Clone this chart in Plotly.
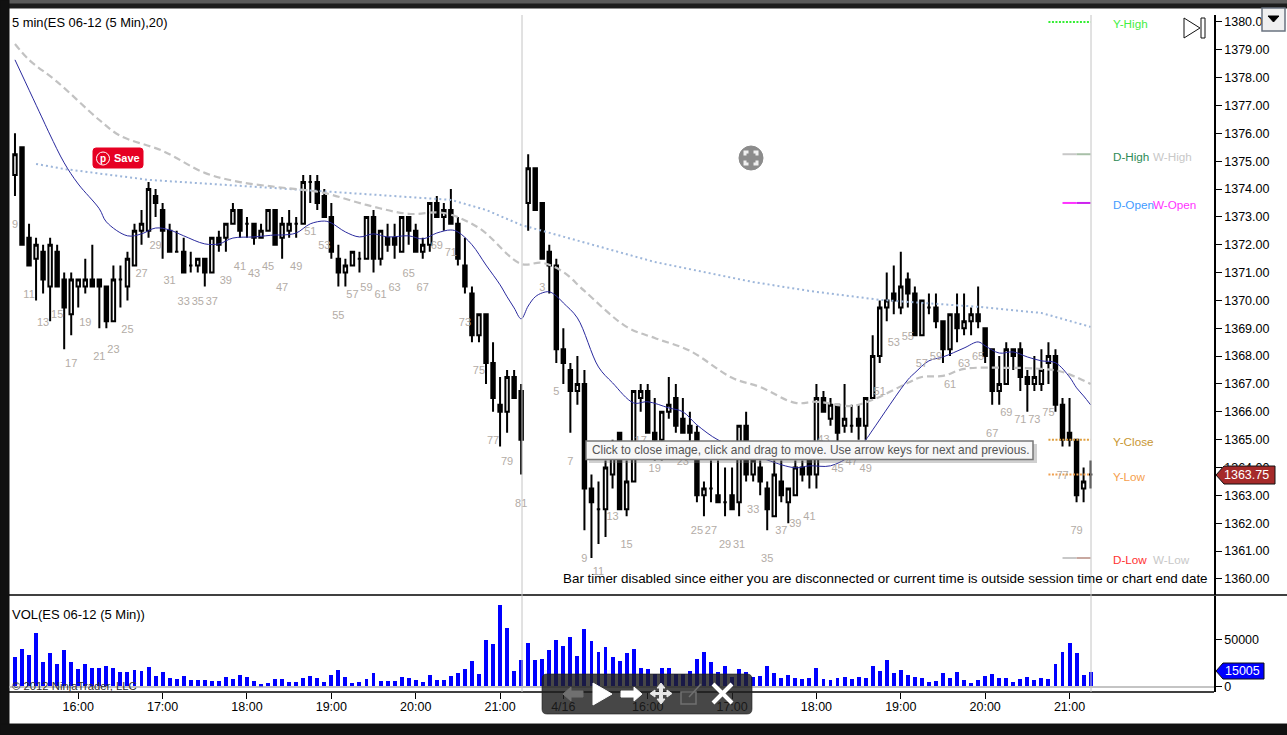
# Graphique ES 06-12 5 min avec volume

import plotly.graph_objects as go

W = 1287
H = 735

# Bougies (index de barre = position)
opens = [1374.5,1375.5,1372.25,1371.5,1371.75,1370.5,1371.75,1370.75,1369.5,1370.5,1370.5,1370.75,1370.75,1370.5,1369.25,1370.75,1370.5,1371.25,1372.5,1372.5,
1373.75,1373.25,1372.5,1371.75,1371.75,1371.25,1371.25,1371.5,1371.0,1372.25,1372.25,1372.75,1373.25,1372.75,1372.75,1372.25,1372.5,1373.25,1372.25,1372.5,
1372.75,1372.75,1374.25,1374.25,1373.75,1373.0,1371.5,1371.0,1371.25,1371.5,1371.5,1373.0,1371.5,1372.25,1372.25,1371.75,1373.0,1372.5,1371.75,1372.0,
1373.5,1373.0,1373.25,1372.75,1371.25,1370.25,1368.75,1369.5,1367.75,1366.25,1366.0,1367.25,1366.75,
1373.5,1374.75,1373.5,1371.75,1371.25,1368.25,1367.5,1366.75,1367.0,1363.25,1362.5,1362.5,1363.75,1365.25,1362.5,1363.5,1366.5,1366.75,1365.25,1365.0,1366.0,
1366.5,1365.75,1365.5,1365.25,1363.0,1363.25,1363.0,1362.75,1363.0,1362.75,1365.5,1363.75,1364.0,1363.25,1362.25,1363.5,1362.75,1363.0,1364.0,1364.25,1363.75,
1366.5,1365.75,1366.25,1365.5,1365.5,1365.75,1365.5,1366.5,1368.0,1369.75,1370.25,1369.75,1370.75,1370.25,1368.75,1369.75,1369.75,1369.25,1368.25,1369.5,1369.0,
1369.25,1369.5,1369.0,1368.25,1366.75,1367.0,1368.25,1368.25,1367.25,1367.0,1367.0,1367.75,1368.0,1366.25,1365.25,1365.0,1363.25,1363.75]
highs = [1376.0,1375.5,1372.75,1372.25,1372.0,1372.25,1372.0,1371.0,1371.0,1370.75,1371.5,1372.0,1370.75,1370.5,1371.25,1371.25,1371.75,1372.75,1373.25,1374.25,
1374.0,1373.5,1372.75,1372.5,1372.25,1371.75,1371.5,1371.5,1372.25,1372.5,1372.75,1373.5,1373.25,1373.0,1372.75,1372.75,1373.25,1373.25,1373.0,1373.25,
1373.0,1374.5,1374.5,1374.5,1374.0,1373.5,1372.0,1371.5,1371.75,1371.75,1373.0,1373.25,1372.5,1372.75,1372.75,1373.0,1373.0,1372.75,1372.25,1373.5,
1373.75,1373.5,1374.0,1373.0,1372.25,1370.5,1369.5,1369.5,1368.5,1367.25,1367.5,1367.5,1367.0,
1375.25,1374.75,1373.5,1372.0,1371.5,1369.0,1367.75,1368.0,1367.5,1363.75,1363.5,1364.25,1365.0,1365.25,1364.25,1366.75,1367.0,1367.0,1366.5,1366.0,1367.25,
1367.0,1366.5,1366.0,1365.5,1363.5,1364.25,1364.25,1364.0,1364.0,1365.5,1366.0,1364.5,1364.25,1363.5,1364.25,1364.25,1363.25,1364.25,1364.25,1364.25,1367.0,
1366.75,1366.5,1366.25,1367.0,1366.25,1366.25,1366.5,1368.75,1370.0,1371.0,1371.25,1371.75,1371.0,1370.5,1370.0,1370.25,1370.25,1369.25,1369.5,1370.25,1370.25,
1369.75,1370.5,1369.0,1368.25,1368.0,1368.5,1368.25,1368.5,1367.5,1368.0,1368.25,1368.5,1368.25,1366.5,1366.5,1365.0,1364.0,1364.25]
lows = [1373.75,1372.0,1371.25,1370.0,1370.25,1369.25,1370.5,1368.25,1368.75,1369.75,1370.25,1370.5,1369.0,1369.0,1369.25,1369.75,1370.0,1371.25,1372.0,1372.25,
1373.0,1371.5,1371.75,1371.75,1371.0,1371.0,1371.0,1370.5,1371.0,1371.75,1371.75,1372.75,1372.25,1372.25,1372.0,1372.25,1372.5,1372.0,1371.5,1372.25,
1372.25,1372.75,1373.5,1373.25,1373.0,1371.5,1370.5,1370.5,1371.25,1371.0,1371.5,1371.0,1371.25,1371.75,1371.5,1371.75,1372.0,1371.75,1371.5,1371.75,
1373.0,1372.5,1372.75,1371.25,1370.25,1368.5,1368.5,1367.0,1366.0,1364.75,1365.25,1366.5,1363.75,
1372.5,1373.25,1371.5,1370.25,1367.75,1367.0,1365.25,1366.25,1361.75,1360.75,1361.25,1361.5,1363.25,1362.5,1362.25,1363.5,1366.0,1365.25,1364.25,1364.25,1365.75,
1365.25,1365.25,1364.75,1362.75,1362.25,1362.75,1362.75,1362.25,1362.5,1362.25,1363.5,1363.5,1363.0,1361.75,1362.25,1362.75,1362.0,1363.0,1363.5,1363.25,1363.25,
1366.0,1365.5,1364.75,1365.25,1365.25,1365.0,1365.0,1366.5,1367.75,1369.25,1369.5,1369.5,1369.75,1368.75,1368.75,1369.5,1369.0,1367.75,1368.0,1368.5,1368.75,
1368.75,1369.0,1367.75,1366.25,1366.25,1367.0,1367.5,1366.75,1366.0,1366.75,1366.75,1367.0,1366.0,1364.75,1364.75,1362.75,1362.75,1363.25]
closes = [1375.25,1372.0,1371.25,1372.0,1370.75,1372.0,1370.5,1369.75,1370.75,1370.75,1370.75,1370.5,1370.5,1369.25,1370.75,1370.75,1371.5,1372.5,1372.75,1374.0,
1373.5,1372.5,1371.75,1371.75,1371.0,1371.25,1371.5,1371.0,1372.25,1372.0,1372.75,1373.25,1372.5,1372.75,1372.25,1372.5,1373.25,1372.0,1372.75,1372.75,
1372.75,1374.25,1374.25,1373.5,1373.0,1371.75,1371.0,1371.25,1371.75,1371.5,1373.0,1371.5,1372.5,1372.0,1372.0,1373.0,1372.5,1371.75,1372.0,1373.5,
1373.0,1373.25,1372.75,1371.5,1370.5,1368.75,1369.5,1367.75,1366.5,1366.0,1367.25,1366.5,1365.0,
1374.75,1373.25,1371.5,1371.25,1368.25,1367.75,1366.75,1367.0,1363.25,1362.75,1362.5,1364.0,1364.5,1362.5,1363.5,1366.75,1366.75,1365.25,1365.0,1366.0,1366.25,
1365.5,1365.25,1365.25,1363.0,1363.25,1363.25,1362.75,1362.75,1362.5,1365.5,1363.75,1364.25,1363.5,1362.5,1363.75,1363.0,1363.25,1364.0,1363.75,1363.75,1366.5,
1366.0,1366.25,1365.25,1365.75,1365.5,1365.5,1366.5,1368.0,1369.75,1370.0,1370.0,1370.5,1370.25,1368.75,1370.0,1369.75,1369.25,1368.25,1369.5,1369.0,1369.25,
1369.5,1369.25,1368.0,1366.75,1367.0,1368.25,1368.0,1367.25,1367.0,1367.25,1367.5,1368.0,1366.25,1365.0,1365.0,1363.0,1363.5,1363.75]

# Volume
volume = [31000,39600,33200,56800,25700,35300,23600,38600,25700,18200,23600,19300,19300,21400,19300,15000,15000,17100,16000,20300,
10700,15000,8600,7500,10700,6400,6400,6400,5400,5400,9600,7500,11800,9600,5400,2100,3200,7500,7500,4300,
4300,8600,10700,8600,4300,11800,17100,9600,3200,4300,7500,13900,5400,5400,5400,9600,8600,6400,4300,11800,
6400,6400,10700,13900,18200,26800,12800,49300,45000,86800,62100,16000,27800,46000,27800,28900,38600,49300,42800,52500,
32100,61000,48200,36400,41800,31000,26800,35300,39600,19300,18200,12800,19300,19300,12800,12800,16000,28900,36400,25700,
15000,21400,9600,18200,15000,9600,10700,21400,13900,8600,11800,8600,7500,8600,19300,7500,6400,8600,9600,7500,
9600,8600,21400,16000,27800,13900,17100,11800,9600,8600,4300,5400,13900,8600,15000,6400,3200,6400,10700,12800,
8600,8600,4300,7500,9600,6400,8600,7500,23600,36400,46000,35300,11800,15005]

# Moyennes mobiles
ema_idx = [0,4,5,7,9,12,13,16,18,20,22,24,27,29,31,34,37,38,40,42,44,45,47,49,51,53,56,58,60,62,63,65,67,69,70,71,72,73,74,75,76,77,78,80,83,85,88,90,93,95,97,100,103,107,111,113,116,119,121,122,127,128,130,132,135,137,138,140,142,144,146,148,150,151,152,153]
ema_val = [1378.64,1376.48,1375.94,1374.94,1374.18,1373.29,1372.82,1372.32,1372.39,1372.6,1372.53,1372.32,1372.03,1372.03,1372.24,1372.28,1372.35,1372.35,1372.42,1372.75,1372.85,1372.78,1372.46,1372.28,1372.39,1372.28,1372.32,1372.21,1372.42,1372.53,1372.46,1372.0,1371.27,1370.56,1370.13,1369.73,1369.34,1369.8,1370.13,1370.27,1370.31,1370.16,1369.91,1369.37,1367.61,1367.04,1366.32,1366.36,1366.14,1366.0,1365.53,1364.99,1364.7,1364.27,1363.99,1364.06,1364.06,1364.45,1364.99,1365.35,1367.15,1367.4,1367.83,1367.97,1368.29,1368.51,1368.37,1368.11,1368.15,1367.97,1367.83,1367.76,1367.25,1366.86,1366.57,1366.25]
sma_idx = [0,2,6,12,15,21,27,32,37,41,44,50,56,61,66,72,75,78,81,87,91,96,102,106,111,114,119,122,127,129,132,135,141,146,149,153]
sma_val = [1379.21,1378.64,1377.85,1376.48,1375.91,1375.37,1374.58,1374.25,1374.08,1373.97,1373.86,1373.43,1373.11,1373.14,1372.6,1371.31,1371.35,1371.02,1370.34,1369.05,1368.65,1368.19,1367.22,1366.89,1366.32,1366.36,1366.21,1366.43,1367.04,1367.25,1367.29,1367.54,1367.58,1367.54,1367.43,1367.0]
slow_idx = [3,7,19,37,45,62,67,72,91,105,113,123,137,146,153]
slow_val = [1374.9,1374.72,1374.33,1374.04,1373.9,1373.61,1373.25,1372.71,1371.38,1370.66,1370.34,1370.02,1369.77,1369.55,1369.05]

# Numéros de barre
num_text = [9,11,13,15,17,19,21,23,25,27,29,31,33,35,37,39,41,43,45,47,49,51,53,55,57,59,61,63,65,67,69,71,73,75,77,79,81,
3,5,7,9,11,13,15,17,19,23,25,27,29,31,33,35,37,39,41,43,45,47,49,51,53,55,57,59,61,63,65,67,69,71,73,75,77,79]
num_idx = [0,2,4,6,8,10,12,14,16,18,20,22,24,26,28,30,32,34,36,38,40,42,44,46,48,50,52,54,56,58,60,62,64,66,68,70,72,
75,77,79,81,83,85,87,89,91,95,97,99,101,103,105,107,109,111,113,115,117,119,121,123,125,127,129,131,133,135,137,139,141,143,145,147,149,151]
num_price = [1372.71,1370.2,1369.19,1369.46,1367.72,1369.19,1367.97,1368.22,1368.94,1370.95,1371.96,1370.7,1369.95,1369.95,1369.95,1370.7,1371.2,1370.95,1371.2,1370.45,1371.2,1372.46,1371.96,1369.44,1370.2,1370.45,1370.2,1370.45,1370.95,1370.45,1371.96,1371.71,1369.19,1367.47,1364.95,1364.2,1362.69,
1370.45,1366.71,1364.2,1360.72,1360.25,1362.23,1361.22,1364.95,1363.95,1364.2,1361.72,1361.72,1361.22,1361.22,1362.48,1360.72,1361.72,1361.97,1362.23,1364.99,1363.95,1364.2,1363.95,1366.71,1368.47,1368.69,1367.69,1367.97,1366.97,1367.69,1367.97,1365.21,1365.96,1365.71,1365.71,1365.96,1363.7,1361.72]

# Niveaux à droite
level_names = ["Y-High","D-High","D-Open","Y-Close","Y-Low","D-Low"]
level_price = [1380.0,1375.25,1373.5,1365.0,1363.75,1360.75]
level_start = [147,151,151,147,147,151]
level_color = ["#33ee33","#a8c0a8","#cc22ee","#e0a040","#f0a050","#c8a8a0"]
level_dash = ["2px,1.5px","solid","solid","2px,1.5px","2px,1.5px","solid"]
level_text_color = ["#44ee44","#2e8b57","#3f9bff","#c89632","#f5a04d","#ff3030"]
week_names = ["W-High","W-Open","W-Low"]
week_price = [1375.25,1373.5,1360.75]
week_color = ["#c8c8c8","#ff33ff","#c8c8c8"]

# Axe du temps
time_idx = [9,21,33,45,57,69,78,90,102,114,126,138,150]
time_lab = ["16:00","17:00","18:00","19:00","20:00","21:00","4/16","16:00","17:00","18:00","19:00","20:00","21:00"]
bar_idx = list(range(len(closes)))


def px(x):
    return x / W


def py(y):
    # léger étirement vertical constaté à la comparaison avec l'image de référence
    return 1 - y * 1.00277 / H


def rect(x0, y0, x1, y1, fill, line=None, lw=1):
    return dict(type="rect", xref="paper", yref="paper", x0=px(x0), y0=py(y0), x1=px(x1), y1=py(y1),
                fillcolor=fill, line=dict(color=line or fill, width=lw), layer="above")


def poly(points, fill, line=None, lw=1):
    d = "M " + " L ".join(f"{px(a):.5f},{py(b):.5f}" for a, b in points) + " Z"
    return dict(type="path", xref="paper", yref="paper", path=d, fillcolor=fill,
                line=dict(color=line or fill, width=lw), layer="above")


def seg(x0, y0, x1, y1, color, lw=1, layer="above"):
    return dict(type="line", xref="paper", yref="paper", x0=px(x0), y0=py(y0), x1=px(x1), y1=py(y1),
                line=dict(color=color, width=lw), layer=layer)


def label(x, y, text, color="#000000", size=12, anchor="left", bold=False):
    if bold:
        text = "<b>" + text + "</b>"
    return dict(xref="paper", yref="paper", x=px(x), y=py(y), text=text, showarrow=False, xanchor=anchor, yanchor="middle",
                font=dict(family="Liberation Sans", size=size, color=color), borderpad=0, borderwidth=0)


fig = go.Figure()

# Moyennes
fig.add_trace(go.Scatter(x=slow_idx, y=slow_val, mode="lines", line=dict(color="#9db6da", width=2, dash="2px,3px"), xaxis="x", yaxis="y"))
fig.add_trace(go.Scatter(x=sma_idx, y=sma_val, mode="lines", line=dict(color="#c2c2c2", width=2.2, dash="7px,4px", shape="spline"), xaxis="x", yaxis="y"))
fig.add_trace(go.Scatter(x=ema_idx, y=ema_val, mode="lines", line=dict(color="#2a2a9e", width=1, shape="spline"), xaxis="x", yaxis="y"))

# Niveaux : semaine (début de trait) puis jour
for i in range(len(week_names)):
    fig.add_trace(go.Scatter(x=[149, 151], y=[week_price[i], week_price[i]], mode="lines",
                             line=dict(color=week_color[i], width=2)))
for i in range(len(level_names)):
    fig.add_trace(go.Scatter(x=[level_start[i], 153], y=[level_price[i], level_price[i]], mode="lines",
                             line=dict(color=level_color[i], width=2, dash=level_dash[i])))

# Bougies
fig.add_trace(go.Candlestick(x=bar_idx, open=opens, high=highs, low=lows, close=closes, whiskerwidth=0,
                             increasing=dict(line=dict(color="black", width=2), fillcolor="white"),
                             decreasing=dict(line=dict(color="black", width=2), fillcolor="black"),
                             xaxis="x", yaxis="y"))

# Numéros
fig.add_trace(go.Scatter(x=num_idx, y=num_price, mode="text", text=[str(n) for n in num_text], textposition="middle center",
                         textfont=dict(family="Liberation Sans", size=11, color="#b3aca6"), xaxis="x", yaxis="y"))

# Volume
fig.add_trace(go.Bar(x=bar_idx, y=volume, width=0.56, marker=dict(color="#0000ff", line=dict(width=0)), xaxis="x2", yaxis="y2"))

shapes = [
    # cadre de la fenêtre
    rect(0, 0, W, 4, "#5a5a5a"),
    rect(0, 4, W, 8, "#1c1c1c"),
    rect(0, 0, 9, H, "#111111"),
    rect(0, 724, W, H, "#111111"),
    seg(9, 595, W, 595, "#000000", 1.5),
    seg(9, 692, 1214, 692, "#000000", 1.5),
    seg(9, 687, 1214, 687, "#b0b0b0", 1.5),
    seg(522, 15, 522, 692, "#c4c4c4", 1),
    seg(1091, 15, 1091, 692, "#c4c4c4", 1),
    # icône de fin de graphique
    poly([(1184, 18), (1200, 28), (1184, 38)], "white", "#111111", 1),
    rect(1201, 18, 1205, 38, "white", "#111111", 1),
    # bouton liste
    rect(1262, 8, 1285, 31, "#f0f0f0", "#6a7380", 1.5),
    poly([(1268, 16), (1279, 16), (1273.5, 22)], "#000000"),
    # étiquettes de prix
    poly([(1216, 475), (1224, 466), (1275, 466), (1275, 484), (1224, 484)], "#a52a2a", "#111111", 1),
    poly([(1216, 671), (1223, 663), (1264, 663), (1264, 679), (1223, 679)], "#0000ff", "#111111", 1),
    # bouton Save
    dict(type="path", xref="paper", yref="paper", fillcolor="#e60023", line=dict(color="#e60023", width=1), layer="above",
         path=f"M {px(96)},{py(148)} L {px(140)},{py(148)} Q {px(143)},{py(148)} {px(143)},{py(151)} L {px(143)},{py(165)} Q {px(143)},{py(168)} {px(140)},{py(168)} L {px(96)},{py(168)} Q {px(93)},{py(168)} {px(93)},{py(165)} L {px(93)},{py(151)} Q {px(93)},{py(148)} {px(96)},{py(148)} Z"),
    dict(type="circle", xref="paper", yref="paper", x0=px(96.5), y0=py(152), x1=px(109.5), y1=py(165), line=dict(color="white", width=1), layer="above"),
    # cible
    dict(type="circle", xref="paper", yref="paper", x0=px(739), y0=py(146), x1=px(763), y1=py(170), fillcolor="#8c8c8c", line=dict(color="#8c8c8c", width=1), layer="above"),
    rect(745, 152, 757, 164, "#8c8c8c", "#f0f0f0", 3),
    rect(749, 147, 753, 169, "#8c8c8c"),
    rect(740, 156, 762, 160, "#8c8c8c"),
    # info-bulle
    rect(589, 444, 1037, 463, "rgba(120,120,120,0.35)", "rgba(120,120,120,0)", 0),
    rect(586, 441, 1033, 459.5, "#f7f7f7", "#777777", 1.5),
    # barre d'outils
    dict(type="path", xref="paper", yref="paper", fillcolor="rgba(30,30,30,0.82)", line=dict(color="rgba(30,30,30,0.6)", width=1), layer="above",
         path=f"M {px(547)},{py(674)} L {px(747)},{py(674)} Q {px(752)},{py(674)} {px(752)},{py(679)} L {px(752)},{py(709)} Q {px(752)},{py(714)} {px(747)},{py(714)} L {px(547)},{py(714)} Q {px(542)},{py(714)} {px(542)},{py(709)} L {px(542)},{py(679)} Q {px(542)},{py(674)} {px(547)},{py(674)} Z"),
    poly([(563, 694), (571, 687), (571, 691), (583, 691), (583, 697), (571, 697), (571, 701)], "#707070"),
    poly([(593, 683), (612, 694), (593, 705)], "#ffffff"),
    poly([(642, 694), (634, 687), (634, 691), (621, 691), (621, 697), (634, 697), (634, 701)], "#ffffff"),
    poly([(661, 683), (665, 688), (662.5, 688), (662.5, 692.5), (667, 692.5), (667, 690), (672, 693.5), (667, 697), (667, 694.5), (662.5, 694.5), (662.5, 699), (665, 699), (661, 704), (657, 699), (659.5, 699), (659.5, 694.5), (655, 694.5), (655, 697), (650, 693.5), (655, 690), (655, 692.5), (659.5, 692.5), (659.5, 688), (657, 688)], "#e8e8e8"),
    rect(681, 692, 696, 704, "rgba(0,0,0,0)", "#707070", 1.5),
    seg(689, 697, 701, 684, "#707070", 1.5),
    seg(713, 684, 732, 703, "#ffffff", 4),
    seg(732, 684, 713, 703, "#ffffff", 4),
]

annotations = [
    label(12, 22, "5 min(ES 06-12 (5 Min),20)", size=12.9),
    label(12, 614, "VOL(ES 06-12 (5 Min))", size=13),
    label(12, 686, "© 2012 NinjaTrader, LLC", "#333333", 11.3),
    label(1208, 578, "Bar timer disabled since either you are disconnected or current time is outside session time or chart end date", size=13.4, anchor="right"),
    label(1246, 475, "1363.75", "#ffffff", 12.5, "center"),
    label(1242, 671, "15005", "#ffffff", 12.5, "center"),
    label(114, 158, "Save", "#ffffff", 11, bold=True),
    label(103, 158.5, "p", "#ffffff", 10, "center", True),
    label(592, 450, "Click to close image, click and drag to move. Use arrow keys for next and previous.", "#555555", 11.9),
]
level_y = [23, 156, 204, 441, 476, 559]
for i in range(len(level_names)):
    annotations.append(label(1113, level_y[i], level_names[i], level_text_color[i], 11.7))
week_y = [156, 204, 559]
for i in range(len(week_names)):
    annotations.append(label(1153, week_y[i], week_names[i], week_color[i], 11.7))

fig.update_layout(
    width=W, height=H, margin=dict(l=0, r=0, t=0, b=0), paper_bgcolor="white", plot_bgcolor="white",
    showlegend=False, hovermode=False, dragmode=False, shapes=shapes, annotations=annotations, bargap=0,
    font=dict(family="Liberation Sans", size=12.5, color="black"),
    xaxis=dict(domain=[px(9), px(1214)], range=[-0.85, 170.55], anchor="y", showticklabels=False, showgrid=False, zeroline=False,
               rangeslider=dict(visible=False), ticks=""),
    yaxis=dict(domain=[py(595), py(15)], range=[1359.42, 1380.25], side="right", anchor="x", dtick=1, tick0=1360, tickformat=".2f",
               ticks="outside", ticklen=6, tickcolor="black", showgrid=False, zeroline=False, showline=True, linecolor="black", linewidth=1.5),
    xaxis2=dict(domain=[px(9), px(1214)], range=[-0.85, 170.55], anchor="y2", tickmode="array", tickvals=time_idx, ticktext=time_lab,
                ticks="outside", ticklen=6, tickcolor="black", showgrid=False, zeroline=False, showline=False, tickangle=0, ticklabelstandoff=-3),
    yaxis2=dict(domain=[py(692), py(596)], range=[-6000, 96500], side="right", anchor="x2", tickmode="array", tickvals=[0, 50000], ticktext=["0", "50000"],
                ticks="outside", ticklen=6, tickcolor="black", showgrid=False, zeroline=False, showline=True, linecolor="black", linewidth=1.5),
)

# Pas de marge de page ni de défilement : la figure doit occuper exactement la fenêtre
page_css = "var s=document.documentElement.style;s.margin='0';s.height='735px';s.overflow='hidden';" \
           "s=document.body.style;s.margin='0';s.height='735px';s.overflow='hidden';"
fig.write_html("out.html", post_script=page_css, config=dict(displayModeBar=False))
